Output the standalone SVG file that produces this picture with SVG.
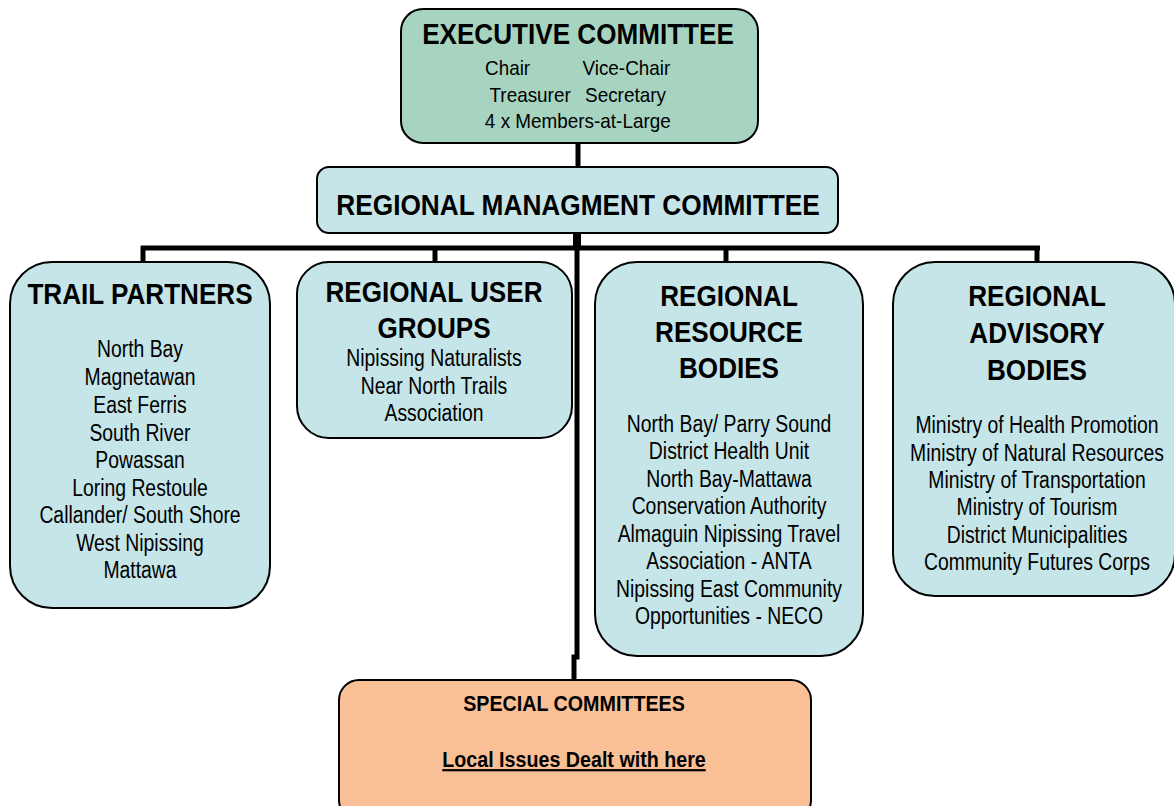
<svg xmlns="http://www.w3.org/2000/svg" width="1174" height="806" viewBox="0 0 1174 806">
<style>
.box{stroke:#000;stroke-width:2}
.blue{fill:#c5e5e8}
.green{fill:#a7d4c0}
.orange{fill:#f9c096}
.t{font-family:"Liberation Sans",Arial,sans-serif;font-weight:bold;text-anchor:middle;fill:#000;font-size:29px}
.b{font-family:"Liberation Sans",Arial,sans-serif;text-anchor:middle;fill:#000;font-size:23px}
.c{fill:none;stroke:#000}
</style>
<rect width="1174" height="806" fill="#fff"/>
<g id="connectors">
<line class="c" x1="578" y1="143" x2="578" y2="168" stroke-width="5"/>
<line class="c" x1="577" y1="233" x2="577" y2="250" stroke-width="8"/>
<line class="c" x1="141" y1="248" x2="1040" y2="248" stroke-width="5"/>
<line class="c" x1="143" y1="246" x2="143" y2="263" stroke-width="5"/>
<line class="c" x1="435" y1="246" x2="435" y2="263" stroke-width="5"/>
<line class="c" x1="726" y1="246" x2="726" y2="263" stroke-width="5"/>
<line class="c" x1="1037" y1="246" x2="1037" y2="263" stroke-width="5"/>
<polyline class="c" points="577,246 577,657 574,657 574,681" stroke-width="5"/>
</g>
<g id="executive-committee">
<rect class="box green" x="401" y="9" width="357" height="134" rx="22"/>
<text class="t" transform="translate(578,44) scale(0.9,1)">EXECUTIVE COMMITTEE</text>
<g transform="scale(0.9,1)">
<text class="b" x="564" y="75" style="font-size:21px">Chair</text>
<text class="b" x="696" y="75" style="font-size:21px">Vice-Chair</text>
<text class="b" x="589" y="102" style="font-size:21px">Treasurer</text>
<text class="b" x="695" y="102" style="font-size:21px">Secretary</text>
<text class="b" x="642" y="128" style="font-size:21px">4 x Members-at-Large</text>
</g>
</g>
<g id="regional-management-committee">
<rect class="box blue" x="317" y="167" width="521" height="66" rx="12"/>
<text class="t" transform="translate(578,215) scale(0.875,1)" style="font-size:30px">REGIONAL MANAGMENT COMMITTEE</text>
</g>
<g id="trail-partners">
<rect class="box blue" x="10" y="262" width="260" height="346" rx="42"/>
<text class="t" transform="translate(140,304) scale(0.9,1)">TRAIL PARTNERS</text>
<g transform="translate(140,0) scale(0.842,1)">
<text class="b" x="0" y="357">North Bay</text>
<text class="b" x="0" y="385">Magnetawan</text>
<text class="b" x="0" y="413">East Ferris</text>
<text class="b" x="0" y="441">South River</text>
<text class="b" x="0" y="468">Powassan</text>
<text class="b" x="0" y="496">Loring Restoule</text>
<text class="b" x="0" y="523">Callander/ South Shore</text>
<text class="b" x="0" y="551">West Nipissing</text>
<text class="b" x="0" y="578">Mattawa</text>
</g>
</g>
<g id="regional-user-groups">
<rect class="box blue" x="297" y="262" width="275" height="176" rx="32"/>
<g transform="translate(434,0) scale(0.9,1)">
<text class="t" x="0" y="302">REGIONAL USER</text>
<text class="t" x="0" y="338">GROUPS</text>
</g>
<g transform="translate(434,0) scale(0.842,1)">
<text class="b" x="0" y="366">Nipissing Naturalists</text>
<text class="b" x="0" y="394">Near North Trails</text>
<text class="b" x="0" y="421">Association</text>
</g>
</g>
<g id="regional-resource-bodies">
<rect class="box blue" x="595" y="262" width="268" height="394" rx="42"/>
<g transform="translate(729,0) scale(0.9,1)">
<text class="t" x="0" y="306">REGIONAL</text>
<text class="t" x="0" y="342">RESOURCE</text>
<text class="t" x="0" y="378">BODIES</text>
</g>
<g transform="translate(729,0) scale(0.842,1)">
<text class="b" x="0" y="432">North Bay/ Parry Sound</text>
<text class="b" x="0" y="459">District Health Unit</text>
<text class="b" x="0" y="487">North Bay-Mattawa</text>
<text class="b" x="0" y="514">Conservation Authority</text>
<text class="b" x="0" y="542">Almaguin Nipissing Travel</text>
<text class="b" x="0" y="569">Association - ANTA</text>
<text class="b" x="0" y="597">Nipissing East Community</text>
<text class="b" x="0" y="624">Opportunities - NECO</text>
</g>
</g>
<g id="regional-advisory-bodies">
<rect class="box blue" x="893" y="262" width="282" height="334" rx="42"/>
<g transform="translate(1037,0) scale(0.9,1)">
<text class="t" x="0" y="306">REGIONAL</text>
<text class="t" x="0" y="343">ADVISORY</text>
<text class="t" x="0" y="380">BODIES</text>
</g>
<g transform="translate(1037,0) scale(0.842,1)">
<text class="b" x="0" y="433">Ministry of Health Promotion</text>
<text class="b" x="0" y="461">Ministry of Natural Resources</text>
<text class="b" x="0" y="488">Ministry of Transportation</text>
<text class="b" x="0" y="515">Ministry of Tourism</text>
<text class="b" x="0" y="543">District Municipalities</text>
<text class="b" x="0" y="570">Community Futures Corps</text>
</g>
</g>
<g id="special-committees">
<rect class="box orange" x="339" y="680" width="472" height="140" rx="20"/>
<g transform="translate(574,0) scale(0.895,1)">
<text class="t" x="0" y="711" style="font-size:22px">SPECIAL COMMITTEES</text>
<text class="t" x="0" y="767" style="font-size:22px" text-decoration="underline">Local Issues Dealt with here</text>
</g>
</g>
</svg>
